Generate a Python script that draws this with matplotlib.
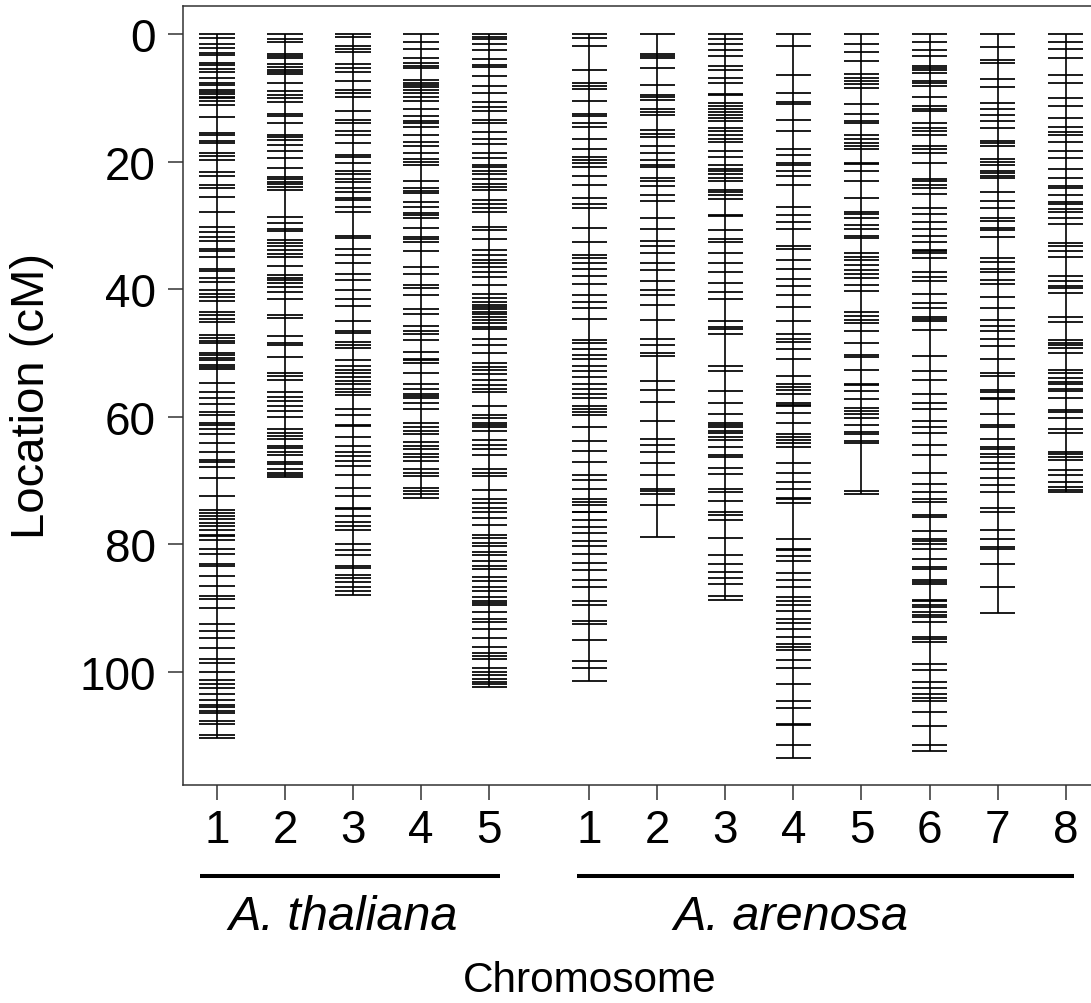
import matplotlib.pyplot as plt
from matplotlib import transforms
from matplotlib.lines import Line2D

plt.rcParams['font.family'] = ['Liberation Sans', 'DejaVu Sans']

# marker positions (cM) per linkage group
thal_1 = [0.0, 0.6, 1.5, 2.2, 2.9, 3.3, 4.6, 4.9, 5.5, 6.0, 6.9, 7.6, 8.0, 8.7, 9.1, 9.4, 9.8,
          10.1, 10.5, 11.1, 13.0, 15.5, 15.9, 16.8, 17.1, 18.6, 19.1, 19.7, 21.7, 22.2, 23.6,
          24.2, 25.5, 27.9, 30.3, 31.0, 31.9, 32.4, 33.7, 34.0, 35.0, 36.8, 37.1, 38.2, 38.9,
          40.1, 40.7, 41.3, 41.9, 43.6, 44.0, 44.7, 45.2, 47.2, 47.6, 48.1, 48.5, 50.1, 50.4,
          50.8, 51.2, 51.9, 52.2, 52.6, 54.7, 56.2, 57.1, 58.0, 59.3, 59.8, 61.0, 61.4, 61.9,
          62.7, 64.1, 65.5, 66.8, 67.2, 67.9, 69.7, 72.4, 74.7, 75.1, 75.6, 76.1, 76.7, 77.2,
          77.8, 78.5, 78.8, 79.4, 80.8, 81.6, 83.2, 83.5, 85.0, 86.6, 88.2, 88.6, 90.0, 92.5,
          93.6, 94.7, 96.3, 98.1, 98.6, 100.1, 101.3, 101.9, 102.6, 103.5, 104.4, 105.3, 105.6,
          106.2, 106.5, 107.8, 108.3, 109.9, 110.4]
thal_2 = [0.0, 0.8, 1.3, 3.2, 3.5, 3.8, 4.7, 5.2, 5.6, 5.9, 6.3, 7.6, 8.9, 9.6, 10.1, 10.7,
          12.5, 12.9, 14.0, 15.8, 16.2, 16.6, 17.4, 18.4, 19.4, 21.0, 22.4, 22.8, 23.2, 23.5,
          24.0, 24.5, 28.7, 29.6, 30.5, 30.9, 32.3, 32.7, 33.3, 33.8, 34.5, 35.0, 36.4, 37.8,
          38.2, 38.6, 39.1, 39.7, 40.4, 41.6, 44.1, 44.6, 47.4, 48.5, 48.7, 50.7, 53.2, 53.6,
          54.3, 56.2, 56.9, 57.5, 58.4, 59.2, 60.0, 62.0, 62.6, 63.1, 63.5, 64.6, 65.0, 65.5,
          66.1, 67.2, 67.5, 68.3, 68.8, 69.2, 69.5]
thal_3 = [0.0, 0.4, 1.8, 2.3, 2.8, 4.7, 5.4, 5.9, 7.4, 8.8, 9.2, 9.9, 12.0, 13.5, 14.0, 15.2,
          15.8, 17.1, 18.9, 19.3, 20.2, 21.5, 22.0, 22.7, 23.2, 24.2, 24.7, 25.7, 26.0, 27.1,
          27.9, 31.7, 32.0, 33.7, 34.6, 35.9, 37.7, 38.6, 40.1, 41.5, 42.7, 45.0, 46.5, 46.9,
          48.3, 48.8, 49.3, 51.2, 52.0, 52.7, 53.2, 53.8, 54.4, 54.9, 55.6, 56.1, 56.6, 58.8,
          59.8, 61.3, 61.5, 63.2, 64.6, 65.5, 66.2, 67.0, 67.8, 69.2, 71.2, 72.4, 74.3, 74.5,
          75.6, 76.6, 77.2, 77.8, 80.0, 81.0, 81.7, 83.4, 83.8, 84.9, 85.4, 85.9, 86.8, 87.3, 88.0]
thal_4 = [0.0, 1.2, 2.3, 3.7, 4.5, 5.0, 5.4, 7.2, 7.6, 8.0, 8.3, 8.7, 9.2, 9.8, 10.5, 11.8,
          12.9, 13.6, 14.0, 14.5, 15.8, 16.9, 17.6, 18.6, 19.6, 20.0, 20.5, 23.1, 24.2, 24.6,
          24.9, 26.4, 27.1, 28.1, 28.4, 28.9, 30.4, 31.9, 32.2, 32.6, 34.1, 36.6, 37.7, 39.3,
          39.9, 41.0, 43.2, 43.9, 45.8, 46.6, 47.1, 48.0, 49.8, 50.9, 51.2, 51.6, 53.2, 54.9,
          55.6, 56.4, 56.7, 57.1, 57.8, 58.8, 61.0, 61.7, 62.2, 62.7, 64.0, 64.6, 65.1, 65.9,
          66.4, 67.0, 68.3, 68.8, 69.3, 71.2, 71.7, 72.2, 72.7]
thal_5 = [0.0, 0.4, 0.8, 1.5, 2.5, 3.9, 4.8, 5.2, 6.6, 8.1, 9.2, 10.7, 11.4, 12.1, 13.5, 14.0,
          15.4, 16.4, 17.3, 18.6, 19.4, 20.5, 20.9, 21.5, 22.0, 22.7, 23.5, 24.0, 24.4, 26.0,
          26.6, 27.3, 27.9, 30.3, 30.8, 32.2, 33.9, 34.6, 35.5, 35.9, 36.6, 37.4, 38.1, 39.3,
          40.8, 41.4, 42.0, 42.5, 42.8, 43.2, 43.6, 43.9, 44.4, 44.9, 45.4, 45.9, 46.3, 47.8,
          48.7, 50.0, 51.6, 52.2, 52.7, 53.4, 54.2, 55.1, 55.6, 56.1, 58.3, 59.8, 60.2, 61.0,
          61.3, 61.7, 62.2, 63.7, 64.4, 65.1, 66.1, 68.3, 68.8, 69.3, 71.5, 73.0, 73.5, 74.4,
          74.9, 75.9, 77.0, 78.5, 79.0, 79.8, 80.3, 81.2, 81.7, 82.7, 83.4, 83.9, 85.2, 85.8,
          86.7, 87.4, 88.3, 89.0, 89.3, 89.6, 90.7, 91.8, 92.2, 93.3, 94.7, 96.1, 97.1, 97.5,
          98.0, 99.5, 100.0, 100.6, 101.2, 101.7, 102.0, 102.4]

aren_1 = [0.0, 0.6, 1.9, 5.7, 7.6, 8.1, 8.6, 10.5, 12.5, 12.9, 14.0, 14.5, 16.5, 18.0, 19.3,
          19.8, 20.2, 20.8, 22.2, 23.7, 25.7, 26.6, 27.3, 30.4, 32.6, 34.6, 35.2, 35.9, 36.8,
          37.9, 39.2, 41.0, 42.0, 43.0, 44.7, 48.0, 48.5, 49.4, 50.3, 51.0, 52.0, 52.9, 53.8,
          54.9, 55.6, 56.4, 57.1, 58.3, 58.8, 59.3, 59.8, 61.7, 63.9, 65.4, 67.1, 69.2, 69.9,
          71.3, 73.0, 73.4, 73.9, 74.9, 75.0, 76.3, 77.3, 78.3, 79.5, 80.3, 81.6, 83.0, 84.1,
          85.6, 86.8, 88.9, 89.6, 92.0, 92.5, 95.1, 98.4, 99.5, 101.5]
aren_2 = [0.0, 3.2, 3.5, 3.8, 5.3, 8.0, 9.6, 9.9, 10.3, 11.8, 12.3, 12.7, 15.1, 15.6, 16.2,
          17.6, 18.6, 19.8, 20.5, 20.9, 22.5, 23.1, 23.8, 25.3, 26.2, 28.9, 30.6, 32.5, 33.2,
          34.4, 35.9, 37.0, 38.8, 40.1, 41.0, 42.5, 44.8, 47.8, 48.8, 50.1, 50.5, 54.4, 55.8,
          57.7, 60.7, 63.5, 64.4, 65.6, 67.3, 69.2, 71.3, 71.7, 72.1, 73.9, 78.9]
aren_3 = [0.0, 0.8, 1.5, 2.5, 3.5, 5.0, 5.7, 6.9, 7.7, 9.4, 9.6, 10.8, 11.3, 11.8, 12.3, 12.7,
          13.2, 13.6, 14.7, 15.2, 15.8, 16.4, 16.9, 18.3, 19.3, 20.5, 21.1, 21.5, 22.0, 22.5,
          23.0, 24.4, 24.7, 25.3, 25.9, 28.4, 28.6, 30.8, 32.2, 32.6, 34.4, 35.9, 37.4, 39.0,
          40.5, 41.5, 45.0, 45.9, 46.2, 47.1, 52.0, 52.9, 56.0, 57.8, 59.6, 61.0, 61.3, 61.7,
          62.2, 62.6, 63.2, 63.7, 64.8, 66.1, 66.4, 68.1, 69.0, 71.3, 71.9, 73.2, 75.0, 75.4,
          76.3, 79.0, 81.7, 83.2, 84.4, 85.4, 86.3, 88.2, 88.7]
aren_4 = [0.0, 1.8, 6.4, 9.2, 10.7, 11.0, 13.5, 15.2, 18.0, 18.9, 20.2, 20.5, 21.5, 22.2, 23.7,
          27.1, 28.4, 29.5, 30.6, 33.2, 33.7, 35.4, 36.8, 38.4, 39.5, 41.0, 42.8, 45.0, 47.1,
          47.8, 48.3, 49.4, 51.0, 53.7, 54.9, 55.4, 55.8, 56.4, 57.8, 58.2, 58.4, 59.5, 61.0,
          62.7, 63.2, 63.7, 64.2, 64.8, 67.3, 68.8, 70.2, 71.3, 72.7, 73.0, 73.5, 79.2, 80.7,
          81.0, 81.9, 82.7, 84.6, 85.6, 86.7, 88.3, 88.9, 89.5, 90.5, 91.7, 92.4, 93.3, 94.6,
          95.6, 96.1, 96.6, 98.2, 99.5, 102.0, 104.6, 105.7, 108.2, 108.4, 111.5, 113.5]
aren_5 = [0.0, 1.5, 2.8, 4.2, 6.3, 6.9, 7.4, 7.9, 8.5, 11.0, 12.5, 13.7, 14.0, 15.8, 16.5,
          17.1, 17.6, 18.0, 20.2, 20.4, 21.5, 23.0, 25.7, 27.9, 28.2, 28.8, 30.0, 30.6, 31.7,
          32.0, 34.4, 34.9, 35.5, 36.3, 37.0, 37.6, 38.3, 39.3, 40.3, 43.6, 44.3, 44.9, 45.4,
          46.5, 48.5, 50.3, 50.7, 52.7, 54.9, 55.1, 56.0, 57.3, 58.6, 59.1, 59.6, 60.2, 61.3,
          62.4, 62.7, 63.9, 64.2, 71.7, 72.1]
aren_6 = [0.0, 1.2, 2.5, 3.5, 5.0, 5.3, 5.7, 6.1, 7.4, 7.7, 8.1, 9.9, 11.3, 11.8, 12.1, 14.0,
          14.7, 15.2, 15.8, 17.6, 18.0, 18.6, 20.2, 22.7, 23.1, 23.7, 24.2, 25.1, 27.3, 28.2,
          29.5, 30.6, 31.6, 32.6, 33.9, 34.1, 34.3, 35.1, 37.3, 38.1, 38.8, 40.7, 42.2, 43.0,
          44.4, 44.7, 45.0, 46.4, 50.5, 52.9, 54.2, 56.4, 57.8, 58.8, 60.7, 61.7, 62.6, 64.4,
          66.1, 68.8, 70.5, 71.9, 73.0, 73.4, 75.4, 75.7, 77.9, 79.2, 79.5, 80.0, 80.8, 82.3,
          83.6, 83.9, 85.6, 86.0, 86.3, 88.7, 89.0, 89.5, 89.8, 90.7, 91.1, 91.4, 92.2, 94.6,
          94.9, 95.3, 98.8, 99.7, 101.7, 102.6, 103.5, 104.2, 104.6, 106.3, 108.5, 111.5, 112.4]
aren_7 = [0.0, 2.0, 4.1, 4.5, 7.0, 8.3, 10.8, 11.8, 12.7, 13.7, 14.7, 16.7, 17.1, 17.6, 19.6,
          20.0, 20.5, 21.5, 21.8, 22.2, 22.5, 24.7, 26.2, 27.3, 28.9, 29.3, 30.4, 30.8, 31.9,
          35.2, 35.7, 36.8, 37.4, 38.5, 39.2, 41.2, 43.0, 44.9, 45.8, 46.6, 47.8, 49.0, 51.0,
          53.2, 53.7, 55.8, 56.1, 57.1, 57.3, 59.6, 61.3, 61.7, 63.5, 64.8, 65.1, 65.9, 66.4,
          67.3, 68.3, 69.7, 70.8, 71.9, 74.3, 75.0, 77.8, 79.2, 80.5, 80.8, 83.2, 86.7, 90.8]
aren_8 = [0.0, 1.2, 2.3, 3.7, 6.4, 7.6, 10.1, 11.3, 13.2, 14.5, 15.4, 15.8, 16.9, 18.3, 19.4,
          21.1, 22.5, 23.8, 24.2, 25.3, 26.4, 26.6, 27.5, 27.9, 28.9, 29.8, 32.7, 33.2, 34.1,
          34.9, 37.9, 38.8, 39.5, 39.8, 40.6, 44.4, 45.2, 48.0, 48.5, 48.8, 49.3, 50.0, 52.7,
          53.2, 53.9, 54.5, 54.9, 55.6, 56.0, 57.1, 58.9, 59.3, 60.2, 62.0, 62.6, 65.5, 65.9,
          66.4, 66.8, 68.4, 69.2, 70.2, 71.0, 71.5, 71.9]

thal_maps = [thal_1, thal_2, thal_3, thal_4, thal_5]
aren_maps = [aren_1, aren_2, aren_3, aren_4, aren_5, aren_6, aren_7, aren_8]
thal_labels = ["1", "2", "3", "4", "5"]
aren_labels = ["1", "2", "3", "4", "5", "6", "7", "8"]

thal_x = [1, 2, 3, 4, 5]
aren_x = [6.47 + i for i in range(8)]

fig = plt.figure(figsize=(10.91, 10.04), dpi=100)
ax = fig.add_axes([0.1677, 0.2174, 0.8365, 0.7753])

half = 0.26
for x, marks in zip(thal_x + aren_x, thal_maps + aren_maps):
    ax.vlines(x, min(marks), max(marks), color="black", lw=1.2)
    ax.hlines(marks, x - half, x + half, color="black", lw=1.25)

ax.set_xlim(0.5, 13.91)
ax.set_ylim(117.75, -4.35)
ax.set_xticks(thal_x + aren_x)
ax.set_xticklabels(thal_labels + aren_labels)
ax.set_yticks([0, 20, 40, 60, 80, 100])

for s in ["left", "top", "bottom"]:
    ax.spines[s].set_color("#333333")
    ax.spines[s].set_linewidth(1.1)
ax.spines["right"].set_visible(False)
ax.tick_params(axis="both", labelsize=33, length=10.5, width=1.1, color="#333333")
ax.tick_params(axis="x", pad=6)
ax.tick_params(axis="y", pad=9)

fig.text(32.5 / 1091, 1 - 396 / 1004, "Location (cM)", rotation=90,
         ha="center", va="center", fontsize=34)

# group bars under the chromosome numbers
bt = transforms.blended_transform_factory(ax.transData, fig.transFigure)
bar_y = 1 - 877 / 1004
fig.add_artist(Line2D([thal_x[0] - 0.25, thal_x[-1] + 0.16], [bar_y, bar_y],
                      transform=bt, color="black", lw=2.9, solid_capstyle="butt"))
fig.add_artist(Line2D([aren_x[0] - 0.18, aren_x[-1] + 0.12], [bar_y, bar_y],
                      transform=bt, color="black", lw=2.9, solid_capstyle="butt"))

fig.text(343 / 1091, 1 - 930 / 1004, "A. thaliana", style="italic",
         ha="center", va="baseline", fontsize=35)
fig.text(791 / 1091, 1 - 930 / 1004, "A. arenosa", style="italic",
         ha="center", va="baseline", fontsize=35)
fig.text(590 / 1091, 1 - 992 / 1004, "Chromosome", ha="center", va="baseline", fontsize=30.5)

fig.savefig("out.png", dpi=100)
